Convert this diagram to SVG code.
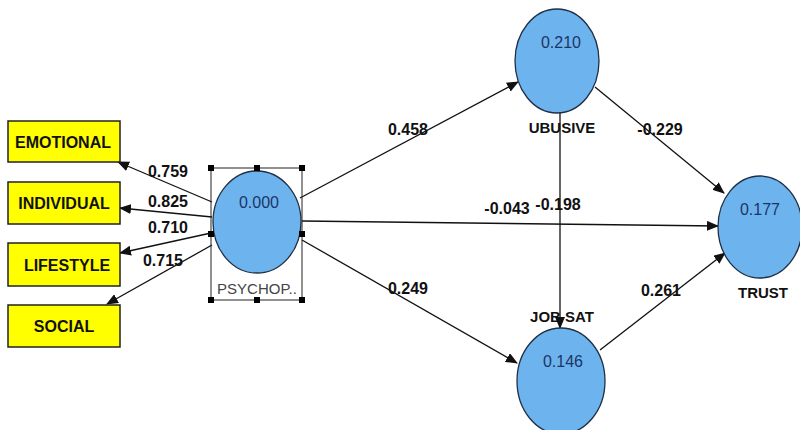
<svg xmlns="http://www.w3.org/2000/svg" width="800" height="430" viewBox="0 0 800 430">
<defs>
<marker id="ah" markerWidth="12" markerHeight="10" refX="11" refY="5" orient="auto" markerUnits="userSpaceOnUse">
<path d="M0,0 L12,5 L0,10 z" fill="#111"/>
</marker>
<style>
.box{fill:#ffff00;stroke:#222;stroke-width:1.5}
.lv{fill:#6db4ee;stroke:#1f2f45;stroke-width:1.3}
.bt{font-family:"Liberation Sans",Arial,sans-serif;font-weight:bold;font-size:16px;fill:#111;text-anchor:middle}
.num{font-family:"Liberation Sans",Arial,sans-serif;font-weight:bold;font-size:16px;fill:#111;text-anchor:middle}
.val{font-family:"Liberation Sans",Arial,sans-serif;font-size:16px;fill:#1b3566;text-anchor:middle}
.nl{font-family:"Liberation Sans",Arial,sans-serif;font-weight:bold;font-size:15px;fill:#111;text-anchor:middle}
.ln{stroke:#111;stroke-width:1.3;fill:none;marker-end:url(#ah)}
.h{fill:#000}
</style>
</defs>
<rect width="800" height="430" fill="#fff"/>
<g id="connectors">
<line class="ln" x1="212" y1="202" x2="118" y2="162"/>
<line class="ln" x1="212" y1="217" x2="120" y2="208"/>
<line class="ln" x1="211" y1="233" x2="120" y2="253"/>
<line class="ln" x1="212" y1="245" x2="107" y2="304"/>
<line class="ln" x1="300" y1="198" x2="518" y2="82"/>
<line class="ln" x1="302" y1="221" x2="718" y2="226"/>
<line class="ln" x1="302" y1="240" x2="517" y2="363"/>
<line class="ln" x1="595" y1="87" x2="724" y2="193"/>
<line class="ln" x1="560" y1="113" x2="560" y2="328"/>
<line class="ln" x1="600" y1="350" x2="725" y2="253"/>
<text class="num" x="168" y="177">0.759</text>
<text class="num" x="168" y="207">0.825</text>
<text class="num" x="168" y="233">0.710</text>
<text class="num" x="163" y="266">0.715</text>
<text class="num" x="408" y="135">0.458</text>
<text class="num" x="507" y="214">-0.043</text>
<text class="num" x="558" y="210">-0.198</text>
<text class="num" x="408" y="294">0.249</text>
<text class="num" x="660" y="135">-0.229</text>
<text class="num" x="661" y="296">0.261</text>
</g>
<g id="emotional"><rect class="box" x="8" y="121" width="112" height="41"/><text class="bt" x="63" y="148">EMOTIONAL</text></g>
<g id="individual"><rect class="box" x="8" y="182" width="112" height="42"/><text class="bt" x="64" y="209">INDIVIDUAL</text></g>
<g id="lifestyle"><rect class="box" x="8" y="243" width="112" height="43"/><text class="bt" x="67" y="271">LIFESTYLE</text></g>
<g id="social"><rect class="box" x="8" y="305" width="112" height="42"/><text class="bt" x="64" y="332">SOCIAL</text></g>
<g id="psychop">
<ellipse class="lv" cx="257" cy="222" rx="44" ry="51"/>
<text class="val" x="259" y="208">0.000</text>
<rect x="211" y="168" width="91" height="132" fill="none" stroke="#222" stroke-width="1"/>
<rect class="h" x="208" y="165" width="6" height="6"/><rect class="h" x="254" y="165" width="6" height="6"/><rect class="h" x="299" y="165" width="6" height="6"/>
<rect class="h" x="208" y="231" width="6" height="6"/><rect class="h" x="299" y="231" width="6" height="6"/>
<rect class="h" x="208" y="297" width="6" height="6"/><rect class="h" x="254" y="297" width="6" height="6"/><rect class="h" x="299" y="297" width="6" height="6"/>
<text x="257" y="294" font-family="'Liberation Sans',Arial,sans-serif" font-size="15" fill="#444" text-anchor="middle">PSYCHOP..</text>
</g>
<g id="ubusive">
<ellipse class="lv" cx="557" cy="61" rx="42" ry="52"/>
<text class="val" x="561" y="48">0.210</text>
<text class="nl" x="562" y="133">UBUSIVE</text>
</g>
<g id="jobsat">
<ellipse class="lv" cx="561" cy="381" rx="44" ry="53"/>
<text class="val" x="563" y="367">0.146</text>
<text class="nl" x="562" y="322">JOB SAT</text>
</g>
<g id="trust">
<ellipse class="lv" cx="760" cy="227" rx="42" ry="51"/>
<text class="val" x="760" y="215">0.177</text>
<text class="nl" x="763" y="298">TRUST</text>
</g>
</svg>
